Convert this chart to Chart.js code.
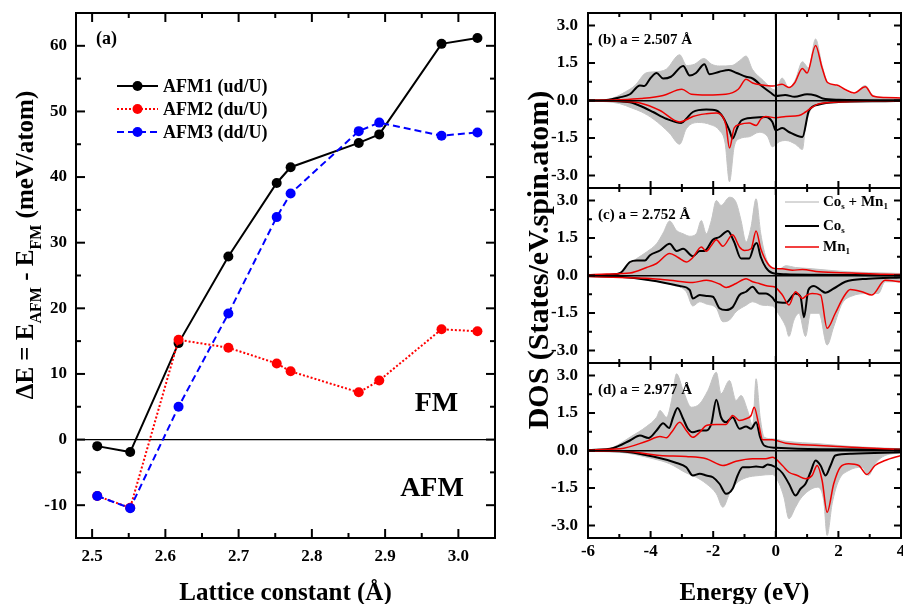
<!DOCTYPE html>
<html>
<head>
<meta charset="utf-8">
<script src="https://cdn.jsdelivr.net/npm/chart.js@4/dist/chart.umd.min.js"></script>
<style>
  html, body { margin: 0; padding: 0; background: #fff; }
  #wrap { position: relative; width: 903px; height: 604px; overflow: hidden; background: #fff; }
  #cA { position: absolute; left: 0; top: 0; }
  #cB { position: absolute; left: 520px; top: 0; }
</style>
</head>
<body>
<div id="wrap">
  <canvas id="cA" width="520" height="604"></canvas>
  <canvas id="cB" width="383" height="604"></canvas>
</div>
<script>
// ---------- (a) exchange energy vs lattice constant ----------
const latticeConstants = [2.507, 2.552, 2.618, 2.686, 2.752, 2.771, 2.864, 2.892, 2.977, 3.026];
const afm1 = [-1.0, -1.9, 14.7, 27.9, 39.1, 41.5, 45.2, 46.5, 60.3, 61.2];
const afm2 = [-8.6, -10.4, 15.2, 14.0, 11.6, 10.4, 7.2, 9.0, 16.8, 16.5];
const afm3 = [-8.6, -10.45, 5.0, 19.2, 33.9, 37.5, 47.0, 48.3, 46.3, 46.8];
const afmNames = ['AFM1 (ud/U)', 'AFM2 (du/U)', 'AFM3 (dd/U)'];

// ---------- (b)-(d) spin-resolved DOS, [energy (eV), DOS] ----------
const panelLabels = ['(b) a = 2.507 Å', '(c) a = 2.752 Å', '(d) a = 2.977 Å'];

const totUpB = [[-6,0.01],[-5.5,0.03],[-5.2,0.1],[-4.8,0.35],[-4.5,0.6],[-4.15,1.1],[-3.85,1.15],[-3.5,1.25],[-3.07,1.83],[-2.85,1.4],[-2.6,1.45],[-2.3,1.68],[-2.05,1.45],[-1.8,1.38],[-1.4,1.4],[-1.15,1.6],[-0.95,1.78],[-0.75,1.25],[-0.4,0.8],[-0.1,0.45],[0,0.42],[0.2,0.9],[0.42,0.5],[0.63,0.85],[0.85,1.55],[1.05,1.3],[1.27,2.46],[1.48,1.4],[1.65,0.75],[1.9,0.6],[2.2,0.4],[2.45,0.25],[2.86,0.6],[3.1,0.2],[3.5,0.12],[4,0.08]];
const totDnB = [[-6,-0.01],[-5.4,-0.05],[-5.0,-0.12],[-4.6,-0.3],[-4.3,-0.45],[-3.9,-0.75],[-3.4,-1.3],[-3.07,-1.75],[-2.86,-1.13],[-2.45,-0.88],[-2.1,-0.96],[-1.8,-1.2],[-1.62,-1.7],[-1.48,-3.25],[-1.33,-1.85],[-1.16,-1.53],[-0.85,-1.45],[-0.53,-1.27],[-0.26,-1.45],[-0.11,-1.85],[0.11,-1.65],[0.32,-1.6],[0.63,-1.75],[0.85,-1.96],[0.95,-1.06],[1.1,-0.4],[1.38,-0.15],[2,-0.08],[3,-0.05],[4,-0.03]];
const coUpB = [[-6,0],[-5.4,0.02],[-5.0,0.12],[-4.66,0.25],[-4.34,0.6],[-4.2,0.58],[-4.0,0.9],[-3.81,1.1],[-3.6,0.88],[-3.35,0.95],[-2.96,1.38],[-2.75,1.0],[-2.55,1.1],[-2.28,1.45],[-2.12,1.05],[-1.8,1.15],[-1.5,1.22],[-1.25,1.1],[-0.95,0.95],[-0.74,0.88],[-0.42,0.55],[-0.15,0.3],[0,0.18],[0.3,0.22],[0.6,0.15],[1.0,0.25],[1.27,0.2],[1.5,0.08],[2,0.03],[4,0.01]];
const coDnB = [[-6,0],[-5.2,-0.02],[-4.66,-0.07],[-4.23,-0.27],[-3.92,-0.46],[-3.5,-0.73],[-3.02,-0.9],[-2.86,-0.73],[-2.65,-0.46],[-2.22,-0.36],[-1.9,-0.4],[-1.69,-0.66],[-1.48,-1.2],[-1.38,-1.52],[-1.22,-1.06],[-1.1,-0.8],[-0.74,-0.69],[-0.32,-0.66],[-0.11,-0.86],[0,-1.2],[0.21,-1.1],[0.42,-1.26],[0.85,-1.46],[1.06,-0.4],[1.38,-0.16],[1.9,-0.07],[3.5,-0.03],[4,-0.02]];
const mnUpB = [[-6,0],[-5,0.03],[-4.3,0.08],[-3.6,0.2],[-3.0,0.45],[-2.7,0.25],[-2.2,0.22],[-1.6,0.25],[-1.2,0.45],[-0.95,0.85],[-0.74,0.7],[-0.42,0.62],[-0.1,0.58],[0.2,0.65],[0.42,0.52],[0.6,0.7],[0.85,1.28],[1.0,1.1],[1.27,2.2],[1.48,1.3],[1.65,0.72],[1.95,0.62],[2.2,0.45],[2.5,0.3],[2.86,0.55],[3.1,0.18],[3.5,0.12],[4,0.1]];
const mnDnB = [[-6,0],[-5,-0.03],[-4.34,-0.1],[-3.7,-0.4],[-3.07,-0.86],[-2.86,-0.77],[-2.65,-0.64],[-2.22,-0.53],[-1.9,-0.5],[-1.69,-0.66],[-1.59,-1.0],[-1.48,-1.9],[-1.33,-1.1],[-1.16,-0.96],[-0.85,-0.9],[-0.63,-1.0],[-0.47,-0.73],[-0.32,-0.64],[0,-0.69],[0.32,-0.64],[0.74,-0.6],[0.95,-0.46],[1.16,-0.27],[1.38,-0.13],[2.43,-0.04],[4,-0.02]];

const totUpC = [[-6,0.02],[-5.4,0.05],[-4.97,0.1],[-4.66,0.48],[-4.44,0.68],[-4.13,0.94],[-3.81,1.27],[-3.6,1.7],[-3.39,2.18],[-3.17,1.8],[-2.96,1.67],[-2.75,1.57],[-2.54,1.67],[-2.38,2.2],[-2.22,1.67],[-2.06,2.2],[-1.9,3.0],[-1.75,2.8],[-1.48,3.13],[-1.27,2.93],[-1.11,2.2],[-0.95,1.34],[-0.79,1.95],[-0.63,3.07],[-0.48,1.67],[-0.32,0.74],[-0.11,0.28],[0.05,0.21],[0.32,0.39],[0.63,0.32],[1.06,0.28],[1.69,0.21],[2.43,0.14],[3.49,0.1],[4,0.08]];
const totDnC = [[-6,-0.04],[-5.4,-0.08],[-4.97,-0.05],[-4.0,-0.2],[-3.28,-0.39],[-2.86,-0.65],[-2.65,-1.22],[-2.43,-1.05],[-2.22,-1.14],[-1.9,-1.31],[-1.69,-1.85],[-1.48,-1.78],[-1.27,-1.45],[-0.95,-1.19],[-0.74,-1.05],[-0.42,-1.19],[-0.11,-1.22],[0.11,-1.58],[0.32,-2.05],[0.42,-2.44],[0.58,-1.78],[0.74,-1.51],[0.95,-2.44],[1.11,-1.51],[1.38,-1.51],[1.64,-2.78],[1.85,-2.05],[2.12,-1.12],[2.43,-0.82],[2.96,-0.72],[3.28,-0.72],[3.49,-0.25],[4,-0.25]];
const coUpC = [[-6,0],[-5.4,0.02],[-4.97,0.1],[-4.66,0.54],[-4.44,0.6],[-4.18,0.6],[-4.02,0.81],[-3.7,1.0],[-3.39,1.27],[-3.17,0.98],[-2.96,1.07],[-2.65,0.77],[-2.43,0.98],[-2.28,0.98],[-2.01,1.43],[-1.8,1.54],[-1.53,1.78],[-1.33,1.34],[-1.11,0.68],[-0.85,0.68],[-0.69,1.2],[-0.61,1.3],[-0.48,0.74],[-0.32,0.32],[-0.11,0.1],[0.32,0.05],[1.38,0.03],[2.43,0.02],[4,0.01]];
const coDnC = [[-6,-0.02],[-5.0,-0.05],[-4.02,-0.19],[-3.07,-0.42],[-2.75,-0.58],[-2.65,-0.92],[-2.43,-0.78],[-2.22,-0.82],[-2.01,-0.85],[-1.8,-1.31],[-1.59,-1.38],[-1.38,-1.27],[-1.16,-0.78],[-0.95,-0.65],[-0.74,-0.45],[-0.53,-0.72],[-0.32,-0.72],[-0.11,-0.88],[0,-1.05],[0.32,-1.09],[0.63,-0.72],[0.79,-0.85],[0.9,-1.67],[1.04,-0.58],[1.22,-0.42],[1.43,-0.58],[1.59,-0.69],[1.85,-0.52],[2.22,-0.25],[2.96,-0.13],[4,-0.08]];
const mnUpC = [[-6,0.03],[-5.4,0.06],[-4.66,0.1],[-4.13,0.32],[-3.81,0.48],[-3.39,0.88],[-3.12,0.72],[-2.86,0.54],[-2.65,0.72],[-2.38,1.14],[-2.22,0.97],[-2.06,1.2],[-1.9,1.43],[-1.69,1.17],[-1.38,1.63],[-1.16,1.14],[-1.0,1.0],[-0.79,1.07],[-0.63,1.78],[-0.48,1.07],[-0.26,0.48],[-0.05,0.28],[0.21,0.27],[0.53,0.21],[0.85,0.24],[1.38,0.15],[2.43,0.1],[3.49,0.05],[4,0.04]];
const mnDnC = [[-6,-0.04],[-4.97,-0.08],[-4.02,-0.12],[-3.39,-0.19],[-2.65,-0.28],[-2.22,-0.19],[-1.8,-0.34],[-1.59,-0.48],[-1.27,-0.32],[-0.95,-0.13],[-0.74,-0.25],[-0.53,-0.32],[-0.26,-0.42],[-0.05,-0.45],[0.21,-0.78],[0.42,-1.18],[0.63,-0.65],[0.85,-0.92],[1.0,-0.78],[1.16,-0.72],[1.43,-0.78],[1.64,-2.11],[1.9,-1.51],[2.17,-0.85],[2.38,-0.56],[2.75,-0.65],[3.07,-0.78],[3.49,-0.19],[4,-0.25]];

const totUpD = [[-6,0.03],[-5.5,0.03],[-5.19,0.13],[-4.66,0.53],[-4.13,0.96],[-3.81,1.33],[-3.7,1.6],[-3.49,1.33],[-3.33,2.0],[-3.17,3.07],[-2.96,2.4],[-2.7,1.73],[-2.43,1.87],[-2.17,2.4],[-1.9,3.13],[-1.75,2.27],[-1.48,2.8],[-1.27,2.0],[-1.11,2.2],[-0.9,1.6],[-0.74,1.0],[-0.63,2.87],[-0.5,1.33],[-0.37,0.53],[-0.11,0.47],[0.32,0.37],[1.38,0.27],[2.43,0.16],[4,0.07]];
const totDnD = [[-6,-0.04],[-5.0,-0.07],[-3.92,-0.33],[-3.39,-0.53],[-2.86,-0.9],[-2.54,-1.07],[-2.22,-1.33],[-1.9,-1.73],[-1.69,-2.27],[-1.48,-1.73],[-1.27,-1.33],[-0.95,-1.09],[-0.53,-1.0],[-0.11,-0.96],[0.11,-1.33],[0.26,-1.87],[0.42,-2.73],[0.63,-2.27],[0.79,-1.93],[1.06,-1.6],[1.32,-1.47],[1.53,-2.0],[1.64,-3.4],[1.8,-2.13],[2.01,-1.2],[2.33,-0.8],[2.75,-0.67],[2.96,-1.0],[3.17,-0.53],[3.49,-0.2],[4,-0.1]];
const coUpD = [[-6,0.01],[-5.19,0.1],[-4.66,0.4],[-4.34,0.6],[-4.07,0.5],[-3.81,0.8],[-3.6,1.09],[-3.41,0.9],[-3.28,1.33],[-3.14,1.7],[-2.96,1.27],[-2.81,0.87],[-2.65,0.73],[-2.43,0.8],[-2.22,0.8],[-2.06,1.07],[-1.9,2.03],[-1.75,1.33],[-1.59,1.13],[-1.38,1.33],[-1.16,0.87],[-0.95,0.96],[-0.79,0.87],[-0.63,1.13],[-0.5,0.53],[-0.37,0.2],[0,0.11],[1.38,0.05],[4,0.04]];
const coDnD = [[-6,-0.01],[-5.0,-0.03],[-3.92,-0.24],[-3.17,-0.5],[-2.86,-0.67],[-2.65,-1.0],[-2.43,-0.93],[-2.22,-1.0],[-2.01,-1.07],[-1.8,-1.33],[-1.59,-1.73],[-1.38,-1.53],[-1.22,-1.0],[-1.06,-0.67],[-0.85,-0.67],[-0.63,-0.64],[-0.42,-0.67],[-0.26,-0.56],[0,-0.67],[0.21,-0.9],[0.42,-1.33],[0.63,-1.8],[0.79,-1.53],[0.95,-1.33],[1.11,-0.87],[1.27,-0.4],[1.43,-0.6],[1.59,-1.0],[1.75,-0.6],[1.9,-0.2],[2.43,-0.13],[4,-0.07]];
const mnUpD = [[-6,0.03],[-4.97,0.07],[-4.13,0.37],[-3.7,0.56],[-3.49,0.51],[-3.33,0.73],[-3.07,1.13],[-2.86,0.8],[-2.65,0.53],[-2.43,0.73],[-2.22,1.0],[-1.9,1.04],[-1.59,1.04],[-1.38,1.4],[-1.16,1.2],[-0.95,1.27],[-0.79,1.4],[-0.69,1.73],[-0.55,1.07],[-0.42,0.43],[-0.11,0.43],[0.32,0.29],[1.38,0.2],[2.43,0.13],[4,0.04]];
const mnDnD = [[-6,-0.03],[-4.87,-0.03],[-3.7,-0.2],[-2.86,-0.24],[-2.22,-0.33],[-1.69,-0.6],[-1.27,-0.43],[-0.74,-0.33],[-0.32,-0.33],[-0.11,-0.27],[0.21,-0.6],[0.42,-0.87],[0.69,-1.0],[0.95,-1.13],[1.16,-1.0],[1.32,-0.6],[1.48,-1.2],[1.64,-2.47],[1.85,-1.33],[2.06,-0.67],[2.33,-0.53],[2.65,-0.6],[2.91,-0.96],[3.17,-0.6],[3.49,-0.4],[4,-0.2]];

// ---------- shared helpers ----------
const SERIF = '"Liberation Serif", "Times New Roman", serif';
const font = (size) => ({ family: SERIF, size, weight: 'bold' });
const bold = (size) => `bold ${size}px ${SERIF}`;
const isMult = (v, step) => Math.abs(v / step - Math.round(v / step)) < 1e-6;
const zip = (xs, ys) => xs.map((x, i) => ({ x, y: ys[i] }));
const toXY = (pairs) => pairs.map(([x, y]) => ({ x, y }));
const zeroOnly = (col) => (c) => (c.tick && Math.abs(c.tick.value) < 1e-9 ? col : 'rgba(0,0,0,0)');

function seg(ctx, x1, y1, x2, y2) {
  ctx.beginPath(); ctx.moveTo(x1, y1); ctx.lineTo(x2, y2); ctx.stroke();
}
// Text with subscripts: parts = [[text, isSub], ...], centred on (0,0) of the current transform
function richText(ctx, parts, size) {
  const sub = Math.round(size * 0.62);
  let w = 0;
  parts.forEach(([t, s]) => { ctx.font = bold(s ? sub : size); w += ctx.measureText(t).width; });
  let x = -w / 2;
  ctx.textAlign = 'left'; ctx.textBaseline = 'alphabetic';
  parts.forEach(([t, s]) => {
    ctx.font = bold(s ? sub : size);
    ctx.fillText(t, x, s ? size * 0.33 + size * 0.3 : size * 0.33);
    x += ctx.measureText(t).width;
  });
}
function richTextLeft(ctx, parts, size, x, y) {
  const sub = Math.round(size * 0.62);
  ctx.textAlign = 'left'; ctx.textBaseline = 'middle';
  parts.forEach(([t, s]) => {
    ctx.font = bold(s ? sub : size);
    ctx.fillText(t, x, s ? y + size * 0.3 : y);
    x += ctx.measureText(t).width;
  });
}

// ---------- panel (a) decorations: frame, inward ticks, labels, legend ----------
const panelA = {
  id: 'panelA',
  afterDatasetsDraw(chart) {
    const { ctx, chartArea: a, scales: { x, y } } = chart;
    ctx.save();
    ctx.strokeStyle = '#000'; ctx.lineWidth = 2;
    y.ticks.forEach((t) => {
      if (t.value <= y.min + 1e-9 || t.value >= y.max - 1e-9) return;
      const p = y.getPixelForValue(t.value);
      const L = isMult(t.value, 10) ? 9 : 5;
      seg(ctx, a.left, p, a.left + L, p); seg(ctx, a.right, p, a.right - L, p);
    });
    x.ticks.forEach((t) => {
      if (t.value <= x.min + 1e-9 || t.value >= x.max - 1e-9) return;
      const p = x.getPixelForValue(t.value);
      const L = isMult(t.value, 0.1) ? 9 : 5;
      seg(ctx, p, a.bottom, p, a.bottom - L); seg(ctx, p, a.top, p, a.top + L);
    });
    ctx.strokeRect(a.left, a.top, a.width, a.height);
    ctx.restore();
  },
  afterDraw(chart) {
    const { ctx, chartArea: a, scales: { x, y } } = chart;
    ctx.save();
    ctx.fillStyle = '#000';
    // y-axis title
    ctx.save();
    ctx.translate(25, 245); ctx.rotate(-Math.PI / 2);
    richText(ctx, [['ΔE = E', false], ['AFM', true], [' - E', false], ['FM', true], [' (meV/atom)', false]], 25);
    ctx.restore();
    // panel tag
    ctx.font = bold(18); ctx.textAlign = 'left'; ctx.textBaseline = 'middle';
    ctx.fillText('(a)', a.left + 20, a.top + 26);
    // region labels
    ctx.font = bold(28); ctx.textAlign = 'center';
    ctx.fillText('FM', x.getPixelForValue(2.970), y.getPixelForValue(5.4));
    ctx.fillText('AFM', x.getPixelForValue(2.964), y.getPixelForValue(-7.5));
    // legend
    chart.data.datasets.forEach((ds, i) => {
      const ly = a.top + 73 + i * 23;
      const x0 = a.left + 41, x1 = a.left + 82, xm = (x0 + x1) / 2;
      ctx.strokeStyle = ds.borderColor; ctx.lineWidth = ds.borderWidth;
      ctx.setLineDash(ds.borderDash || []);
      seg(ctx, x0, ly, x1, ly);
      ctx.setLineDash([]);
      ctx.fillStyle = ds.backgroundColor;
      ctx.beginPath(); ctx.arc(xm, ly, ds.pointRadius, 0, Math.PI * 2); ctx.fill();
      ctx.fillStyle = '#000'; ctx.font = bold(18); ctx.textAlign = 'left'; ctx.textBaseline = 'middle';
      ctx.fillText(ds.label, x1 + 5, ly + 1);
    });
    ctx.restore();
  }
};

new Chart(document.getElementById('cA'), {
  type: 'line',
  data: {
    datasets: [
      { label: afmNames[0], data: zip(latticeConstants, afm1), borderColor: '#000000', backgroundColor: '#000000',
        borderWidth: 2, pointRadius: 5, pointBorderWidth: 0, order: 3 },
      { label: afmNames[1], data: zip(latticeConstants, afm2), borderColor: '#ff0000', backgroundColor: '#ff0000',
        borderWidth: 2, borderDash: [2, 2], pointRadius: 5, pointBorderWidth: 0, order: 2 },
      { label: afmNames[2], data: zip(latticeConstants, afm3), borderColor: '#0000ff', backgroundColor: '#0000ff',
        borderWidth: 2, borderDash: [7, 4], pointRadius: 5, pointBorderWidth: 0, order: 1 }
    ]
  },
  options: {
    responsive: false, animation: false, events: [],
    layout: { padding: { top: 13, right: 25, bottom: 0, left: 0 } },
    plugins: { legend: { display: false }, tooltip: { enabled: false } },
    scales: {
      x: {
        type: 'linear', min: 2.478, max: 3.05,
        ticks: { stepSize: 0.05, includeBounds: false, autoSkip: false, maxRotation: 0, padding: 8, color: '#000', font: font(17),
                 callback: (v) => (isMult(v, 0.1) ? v.toFixed(1) : '') },
        grid: { display: false, drawTicks: false }, border: { display: false },
        title: { display: true, text: 'Lattice constant (Å)', color: '#000', font: { ...font(25), lineHeight: 0.85 },
                 padding: { top: 0, bottom: 0 } },
        afterFit(s) { s.height = 66; s.paddingLeft = 0; s.paddingRight = 0; }
      },
      y: {
        min: -15, max: 65,
        ticks: { stepSize: 5, includeBounds: false, autoSkip: false, padding: 9, color: '#000', font: font(17),
                 callback: (v) => (isMult(v, 10) ? String(v) : '') },
        grid: { color: zeroOnly('#000'), lineWidth: 1.2, drawTicks: false }, border: { display: false },
        afterFit(s) { s.width = 76; s.paddingTop = 0; s.paddingBottom = 0; }
      }
    }
  },
  plugins: [panelA]
});

// ---------- (b)-(d) DOS panels, stacked on one energy axis ----------
const panelKeys = ['yB', 'yC', 'yD'];
const panelData = [
  [totUpB, totDnB, coUpB, coDnB, mnUpB, mnDnB],
  [totUpC, totDnC, coUpC, coDnC, mnUpC, mnDnC],
  [totUpD, totDnD, coUpD, coDnD, mnUpD, mnDnD]
];
const dosNames = ['Cos + Mn1', 'Cos', 'Mn1'];
const GRAY = '#c3c3c3';
const dosSets = [];
panelData.forEach((arrs, p) => {
  const yAxisID = panelKeys[p];
  const common = { yAxisID, pointRadius: 0, cubicInterpolationMode: 'monotone' };
  dosSets.push({ ...common, label: dosNames[0], data: toXY(arrs[0]), fill: 'origin', backgroundColor: GRAY, borderColor: GRAY, borderWidth: 1, order: 3 });
  dosSets.push({ ...common, label: dosNames[0], data: toXY(arrs[1]), fill: 'origin', backgroundColor: GRAY, borderColor: GRAY, borderWidth: 1, order: 3 });
  dosSets.push({ ...common, label: dosNames[1], data: toXY(arrs[2]), borderColor: '#000', borderWidth: 2, order: 2 });
  dosSets.push({ ...common, label: dosNames[1], data: toXY(arrs[3]), borderColor: '#000', borderWidth: 2, order: 2 });
  dosSets.push({ ...common, label: dosNames[2], data: toXY(arrs[4]), borderColor: '#ee0000', borderWidth: 1.5, order: 1 });
  dosSets.push({ ...common, label: dosNames[2], data: toXY(arrs[5]), borderColor: '#ee0000', borderWidth: 1.5, order: 1 });
});

const dosAxis = () => ({
  type: 'linear', position: 'left', stack: 'dos', stackWeight: 1, min: -3.5, max: 3.5,
  ticks: { stepSize: 0.75, includeBounds: false, autoSkip: false, padding: 10, color: '#000', font: font(17),
           callback: (v) => (isMult(v, 1.5) ? v.toFixed(1) : '') },
  grid: { color: zeroOnly('#000'), lineWidth: 1.5, drawTicks: false, z: 1 },
  border: { display: false },
  afterFit(s) { s.width = 68; s.paddingTop = 0; s.paddingBottom = 0; }
});

const panelDOS = {
  id: 'panelDOS',
  afterDatasetsDraw(chart) {
    const { ctx, chartArea: a, scales } = chart;
    const x = scales.x;
    ctx.save();
    ctx.strokeStyle = '#000'; ctx.lineWidth = 2;
    panelKeys.forEach((k) => {
      const y = scales[k];
      y.ticks.forEach((t) => {
        if (t.value <= y.min + 1e-9 || t.value >= y.max - 1e-9) return;
        const p = y.getPixelForValue(t.value);
        const L = isMult(t.value, 1.5) ? 7 : 4;
        seg(ctx, a.left, p, a.left + L, p); seg(ctx, a.right, p, a.right - L, p);
      });
      x.ticks.forEach((t) => {
        if (t.value <= x.min + 1e-9 || t.value >= x.max - 1e-9) return;
        const p = x.getPixelForValue(t.value);
        const L = isMult(t.value, 2) ? 7 : 4;
        seg(ctx, p, y.bottom, p, y.bottom - L); seg(ctx, p, y.top, p, y.top + L);
      });
      ctx.strokeRect(a.left, y.top, a.width, y.bottom - y.top);
    });
    ctx.restore();
  },
  afterDraw(chart) {
    const { ctx, chartArea: a, scales } = chart;
    ctx.save();
    ctx.fillStyle = '#000';
    // y-axis title
    ctx.save();
    ctx.translate(20, 260); ctx.rotate(-Math.PI / 2);
    ctx.font = bold(30); ctx.textAlign = 'center'; ctx.textBaseline = 'middle';
    ctx.fillText('DOS (States/eV.spin.atom)', 0, 0);
    ctx.restore();
    // panel tags
    panelKeys.forEach((k, i) => {
      ctx.font = bold(15); ctx.textAlign = 'left'; ctx.textBaseline = 'middle';
      ctx.fillText(panelLabels[i], a.left + 10, scales[k].top + 27.5);
    });
    // legend inside panel (c)
    const top = scales.yC.top;
    const x0 = a.left + 197, x1 = a.left + 231;
    const rows = [
      { y: top + 14, color: '#b0b0b0', w: 1, parts: [['Co', false], ['s', true], [' + Mn', false], ['1', true]] },
      { y: top + 38, color: '#000', w: 2, parts: [['Co', false], ['s', true]] },
      { y: top + 59, color: '#ee0000', w: 1.5, parts: [['Mn', false], ['1', true]] }
    ];
    rows.forEach((r) => {
      ctx.strokeStyle = r.color; ctx.lineWidth = r.w;
      seg(ctx, x0, r.y, x1, r.y);
      ctx.fillStyle = '#000';
      richTextLeft(ctx, r.parts, 15, x1 + 4, r.y);
    });
    ctx.restore();
  }
};

new Chart(document.getElementById('cB'), {
  type: 'line',
  data: { datasets: dosSets },
  options: {
    responsive: false, animation: false, events: [],
    layout: { padding: { top: 13, right: 2, bottom: 0, left: 0 } },
    plugins: { legend: { display: false }, tooltip: { enabled: false }, filler: { propagate: false } },
    scales: {
      x: {
        type: 'linear', min: -6, max: 4,
        ticks: { stepSize: 1, includeBounds: false, autoSkip: false, maxRotation: 0, padding: 3, color: '#000', font: font(17),
                 callback: (v) => (isMult(v, 2) ? String(v) : '') },
        grid: { color: zeroOnly('#000'), lineWidth: 2, drawTicks: false, z: 1 },
        border: { display: false },
        title: { display: true, text: 'Energy (eV)', color: '#000', font: { ...font(25), lineHeight: 0.85 },
                 padding: { top: 0, bottom: 0 } },
        afterFit(s) { s.height = 66; s.paddingLeft = 0; s.paddingRight = 0; }
      },
      yD: dosAxis(),
      yC: dosAxis(),
      yB: dosAxis()
    }
  },
  plugins: [panelDOS]
});
</script>
</body>
</html>
